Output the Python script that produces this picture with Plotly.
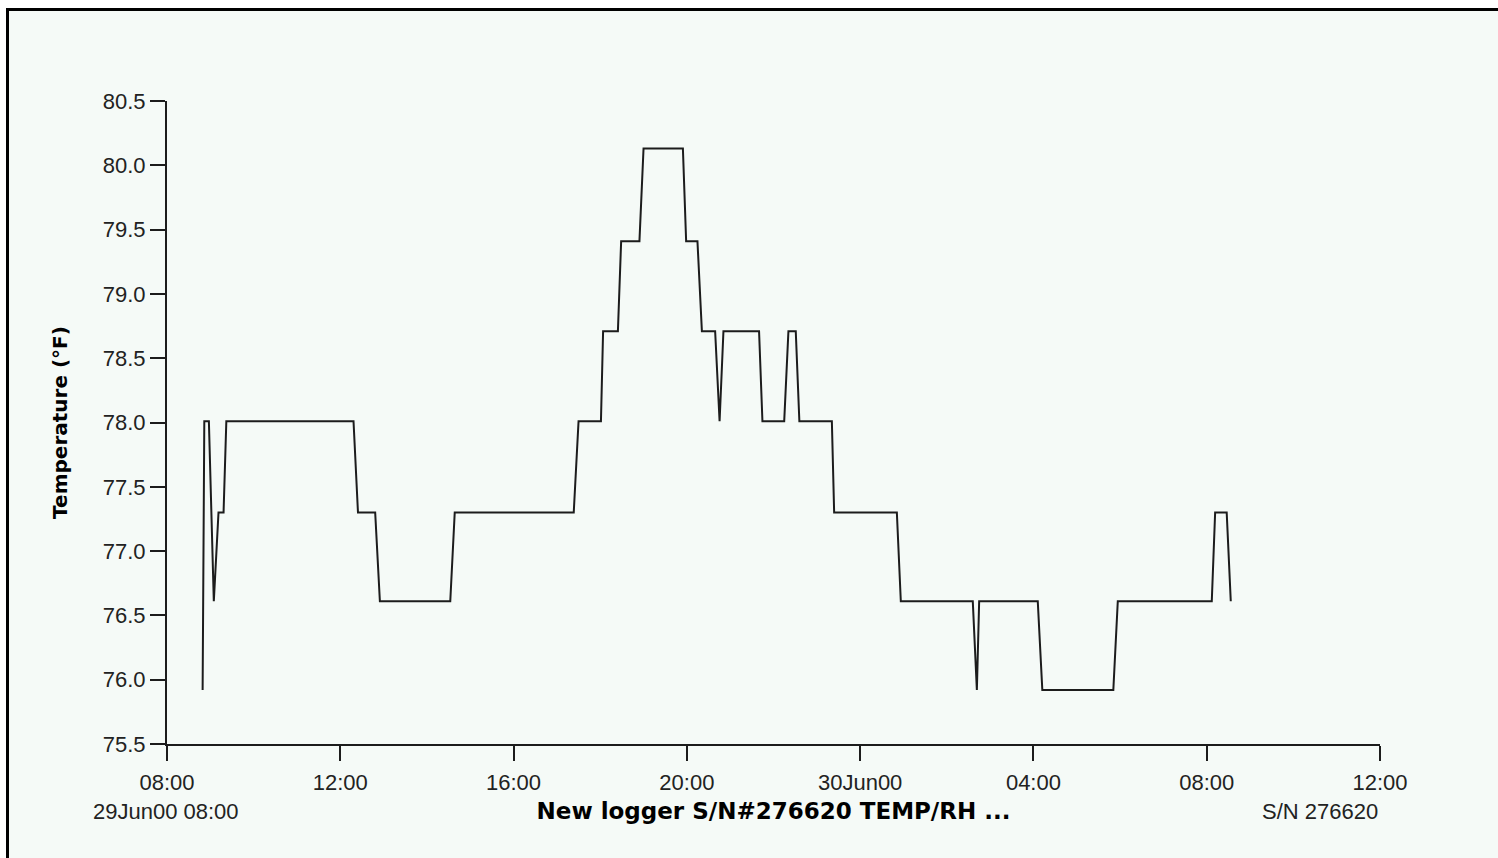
import plotly.graph_objects as go

# Logger readings: timestamps of each change point and the temperature (°F)
times = [
    "2000-06-29 08:49:20", "2000-06-29 08:51:40", "2000-06-29 08:58:00",
    "2000-06-29 09:04:50", "2000-06-29 09:11:20", "2000-06-29 09:18:20",
    "2000-06-29 09:22:10", "2000-06-29 12:18:20", "2000-06-29 12:24:30",
    "2000-06-29 12:48:20", "2000-06-29 12:54:50", "2000-06-29 14:32:20",
    "2000-06-29 14:38:30", "2000-06-29 17:23:20", "2000-06-29 17:30:00",
    "2000-06-29 18:01:00", "2000-06-29 18:04:00", "2000-06-29 18:24:30",
    "2000-06-29 18:29:00", "2000-06-29 18:54:20", "2000-06-29 19:00:00",
    "2000-06-29 19:54:30", "2000-06-29 19:59:00", "2000-06-29 20:14:40",
    "2000-06-29 20:20:50", "2000-06-29 20:39:10", "2000-06-29 20:45:20",
    "2000-06-29 20:50:40", "2000-06-29 21:40:00", "2000-06-29 21:44:40",
    "2000-06-29 22:14:50", "2000-06-29 22:20:40", "2000-06-29 22:30:50",
    "2000-06-29 22:35:50", "2000-06-29 23:20:50", "2000-06-29 23:24:00",
    "2000-06-30 00:50:50", "2000-06-30 00:56:20", "2000-06-30 02:36:00",
    "2000-06-30 02:41:40", "2000-06-30 02:44:50", "2000-06-30 04:06:00",
    "2000-06-30 04:12:20", "2000-06-30 05:50:40", "2000-06-30 05:56:50",
    "2000-06-30 08:07:00", "2000-06-30 08:11:40", "2000-06-30 08:27:40",
    "2000-06-30 08:33:20",
]
temps_f = [
    75.92, 78.01, 78.01,
    76.61, 77.30, 77.30,
    78.01, 78.01, 77.30,
    77.30, 76.61, 76.61,
    77.30, 77.30, 78.01,
    78.01, 78.71, 78.71,
    79.41, 79.41, 80.13,
    80.13, 79.41, 79.41,
    78.71, 78.71, 78.01,
    78.71, 78.71, 78.01,
    78.01, 78.71, 78.71,
    78.01, 78.01, 77.30,
    77.30, 76.61, 76.61,
    75.92, 76.61, 76.61,
    75.92, 75.92, 76.61,
    76.61, 77.30, 77.30,
    76.61,
]

# Axis ticks
x_tickvals = [
    "2000-06-29 08:00", "2000-06-29 12:00", "2000-06-29 16:00",
    "2000-06-29 20:00", "2000-06-30 00:00", "2000-06-30 04:00",
    "2000-06-30 08:00", "2000-06-30 12:00",
]
x_ticktext = ["08:00", "12:00", "16:00", "20:00", "30Jun00", "04:00", "08:00", "12:00"]
y_tickvals = [75.5, 76.0, 76.5, 77.0, 77.5, 78.0, 78.5, 79.0, 79.5, 80.0, 80.5]

W, H = 1498, 858
L, R, T, B = 167, 118, 101, 114
PW, PH = W - L - R, H - T - B

def px_x(px):
    return (px - L) / PW

def px_y(py):
    return (H - B - py) / PH

INK = "#1c1c1c"
BG = "#F5FAF7"
REG = "Liberation Sans, Arial, sans-serif"
BOLD = "DejaVu Sans, sans-serif"

fig = go.Figure()
fig.add_trace(go.Scatter(
    x=times, y=temps_f, mode="lines",
    line=dict(color=INK, width=2),
    hoverinfo="x+y", showlegend=False,
))

fig.update_layout(
    width=W, height=H,
    margin=dict(l=L, r=R, t=T, b=B, autoexpand=False),
    paper_bgcolor="white",
    plot_bgcolor="rgba(0,0,0,0)",
    title=dict(
        text="<b>New logger S/N#276620 TEMP/RH ...</b>",
        font=dict(family=BOLD, size=23, color="#000"),
        x=0.5, xref="paper", xanchor="center",
        y=1 - 811 / H, yref="container", yanchor="middle",
    ),
    xaxis=dict(
        type="date",
        range=["2000-06-29 08:00", "2000-06-30 12:00"],
        tickvals=x_tickvals, ticktext=x_ticktext,
        showline=True, linecolor=INK, linewidth=2,
        ticks="outside", ticklen=15, tickwidth=2, tickcolor=INK,
        ticklabelstandoff=3,
        tickfont=dict(family=REG, size=22, color="#222"),
        showgrid=False, zeroline=False, fixedrange=True,
    ),
    yaxis=dict(
        range=[75.5, 80.5],
        tickvals=y_tickvals, tickformat=".1f",
        showline=True, linecolor=INK, linewidth=2,
        ticks="outside", ticklen=15, tickwidth=2, tickcolor=INK,
        tickfont=dict(family=REG, size=22, color="#222"),
        showgrid=False, zeroline=False, fixedrange=True,
        title=dict(text="<b>Temperature (°F)</b>",
                   font=dict(family=BOLD, size=20, color="#000"),
                   standoff=30),
    ),
    shapes=[
        # panel background and its top/left frame
        dict(type="rect", xref="paper", yref="paper", layer="below",
             x0=px_x(6), x1=px_x(W + 2), y0=px_y(H + 2), y1=px_y(8),
             fillcolor=BG, line=dict(width=0)),
        dict(type="line", xref="paper", yref="paper", layer="above",
             x0=px_x(6), x1=px_x(W + 2), y0=px_y(9.5), y1=px_y(9.5),
             line=dict(color="#000", width=3)),
        dict(type="line", xref="paper", yref="paper", layer="above",
             x0=px_x(7.5), x1=px_x(7.5), y0=px_y(8), y1=px_y(H + 2),
             line=dict(color="#000", width=3)),
    ],
    annotations=[
        dict(text="29Jun00 08:00", xref="paper", yref="paper",
             x=px_x(166), y=px_y(811), xanchor="center", yanchor="middle",
             showarrow=False, font=dict(family=REG, size=22, color="#222")),
        dict(text="S/N 276620", xref="paper", yref="paper",
             x=px_x(1380), y=px_y(811), xanchor="right", yanchor="middle",
             showarrow=False, font=dict(family=REG, size=22, color="#222")),
    ],
)

fig.write_html("out.html", config={"displayModeBar": False})
